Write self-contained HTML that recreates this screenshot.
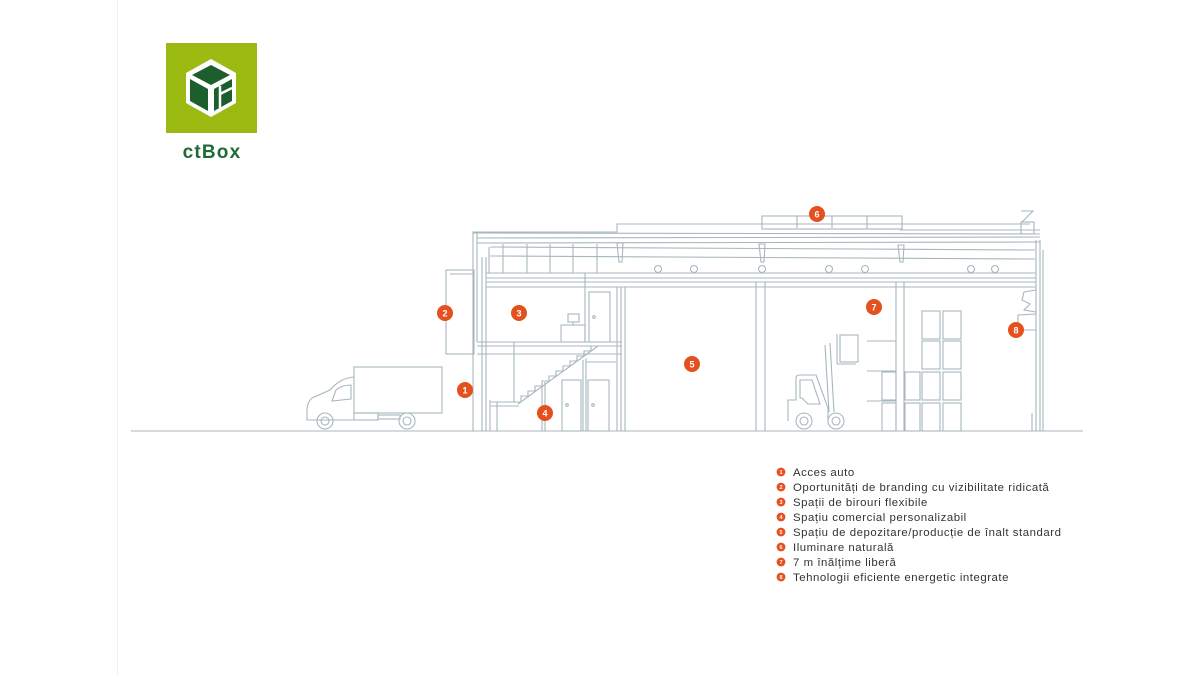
<!DOCTYPE html>
<html><head><meta charset="utf-8"><style>
html,body{margin:0;padding:0;background:#fff;}
svg{display:block}
</style></head><body>
<svg width="1200" height="675" viewBox="0 0 1200 675" xmlns="http://www.w3.org/2000/svg" font-family="Liberation Sans, sans-serif">
<rect width="1200" height="675" fill="#fff"/>
<line x1="117.5" y1="0" x2="117.5" y2="675" stroke="#f0f0f0" stroke-width="1"/>
<!-- logo -->
<rect x="166" y="43" width="91" height="90" fill="#9bba12"/>
<g transform="translate(211,88)">
<polygon points="0,-29 25,-15 25,15 0,29 -25,15 -25,-15" fill="#fff"/>
<polygon points="0,-23 19,-13 0,-3 -19,-13" fill="#1c5e2c"/>
<polygon points="-21,-9 -3,1 -3,23 -21,13" fill="#1c5e2c"/>
<polygon points="3,1 21,-9 21,13 3,23" fill="#1c5e2c"/>
<line x1="9" y1="-2" x2="9" y2="20" stroke="#fff" stroke-width="2.5"/>
<line x1="9" y1="6" x2="21" y2="0" stroke="#fff" stroke-width="2.5"/>
</g>
<text x="212" y="158" text-anchor="middle" font-size="19" font-weight="bold" fill="#1f6a35" letter-spacing="1.2">ctBox</text>

<g fill="none" stroke="#a7b7bc" stroke-width="1.1">
<line x1="131" y1="431" x2="1083" y2="431"/>
<rect x="354" y="367" width="88" height="46"/>
<path d="M354,377 Q340,378 330,390 L312,398 Q307,402 307,412 L307,420 L354,420"/>
<path d="M332,401 L336,390 Q342,385 351,385 L351,399 Z"/>
<rect x="354" y="413" width="24" height="7"/>
<rect x="378" y="415" width="22" height="4"/>
<circle cx="325" cy="421" r="8"/><circle cx="325" cy="421" r="4"/>
<circle cx="407" cy="421" r="8"/><circle cx="407" cy="421" r="4"/>
<polyline points="473,431 473,232 617,232 617,224 1030,224"/>
<line x1="477" y1="232" x2="477" y2="342"/>
<line x1="473" y1="233" x2="1040" y2="234"/>
<line x1="477" y1="238" x2="1040" y2="237"/>
<line x1="477" y1="243" x2="1040" y2="242"/>
<line x1="490" y1="247" x2="1035" y2="250"/>
<line x1="490" y1="256" x2="1035" y2="259"/>
<line x1="1036" y1="240" x2="1036" y2="431"/>
<line x1="1040" y1="240" x2="1040" y2="431"/>
<line x1="1043" y1="250" x2="1043" y2="431"/>
<rect x="762" y="216" width="140" height="13"/>
<line x1="797" y1="216" x2="797" y2="228"/><line x1="832" y1="216" x2="832" y2="228"/><line x1="867" y1="216" x2="867" y2="229"/>
<line x1="900" y1="230" x2="1040" y2="230"/>
<rect x="1021" y="222" width="13" height="12"/>
<path d="M1021,211 L1033,211 L1022,222"/>
<path d="M617,243 L623,243 L622,262 L619,262 Z"/>
<path d="M759,244 L765,244 L764,262 L761,262 Z"/>
<path d="M898,245 L904,245 L903,262 L900,262 Z"/>
<line x1="503" y1="244" x2="503" y2="273"/><line x1="527" y1="244" x2="527" y2="273"/>
<line x1="550" y1="244" x2="550" y2="273"/><line x1="573" y1="244" x2="573" y2="273"/>
<line x1="597" y1="244" x2="597" y2="273"/>
<line x1="489" y1="247" x2="489" y2="273"/>
<line x1="486" y1="273" x2="1036" y2="273"/>
<line x1="486" y1="278" x2="1036" y2="278"/>
<line x1="486" y1="282" x2="1036" y2="282"/>
<line x1="486" y1="287" x2="1036" y2="287"/>
<circle cx="658" cy="269" r="3.5"/><circle cx="694" cy="269" r="3.5"/><circle cx="762" cy="269" r="3.5"/>
<circle cx="829" cy="269" r="3.5"/><circle cx="865" cy="269" r="3.5"/><circle cx="971" cy="269" r="3.5"/><circle cx="995" cy="269" r="3.5"/>
<line x1="482" y1="257" x2="482" y2="431"/><line x1="486" y1="257" x2="486" y2="431"/>
<line x1="490" y1="400" x2="490" y2="431"/><line x1="497" y1="402" x2="497" y2="431"/>
<rect x="446" y="270" width="28" height="84"/>
<line x1="450" y1="274" x2="473" y2="274"/>
<line x1="477" y1="342" x2="622" y2="342"/>
<line x1="477" y1="346" x2="622" y2="346"/>
<line x1="477" y1="354" x2="622" y2="354"/>
<line x1="514" y1="342" x2="514" y2="402"/>
<line x1="585" y1="273" x2="585" y2="342"/>
<rect x="589" y="292" width="21" height="50"/><circle cx="594" cy="317" r="1.3"/>
<rect x="561" y="325" width="24" height="17"/>
<rect x="568" y="314" width="11" height="8"/><line x1="573" y1="322" x2="573" y2="325"/>
<line x1="617" y1="287" x2="617" y2="431"/><line x1="621" y1="287" x2="621" y2="431"/>
<line x1="518" y1="404" x2="598" y2="346"/>
<path d="M514,402 L521,402 L521,396 L528,396 L528,391 L535,391 L535,386 L542,386 L542,381 L549,381 L549,376 L556,376 L556,371 L563,371 L563,366 L570,366 L570,361 L577,361 L577,356 L584,356 L584,351 L591,351 L591,346"/>
<line x1="491" y1="402" x2="518" y2="402"/>
<line x1="491" y1="406" x2="519" y2="406"/>
<line x1="542" y1="384" x2="542" y2="431"/><line x1="545" y1="382" x2="545" y2="431"/>
<line x1="583" y1="360" x2="583" y2="431"/><line x1="586" y1="358" x2="586" y2="431"/>
<line x1="586" y1="362" x2="616" y2="362"/>
<rect x="562" y="380" width="19" height="51"/><circle cx="567" cy="405" r="1.3"/>
<rect x="588" y="380" width="21" height="51"/><circle cx="593" cy="405" r="1.3"/>
<line x1="625" y1="287" x2="625" y2="431"/>
<line x1="756" y1="282" x2="756" y2="431"/>
<line x1="765" y1="282" x2="765" y2="431"/>
<line x1="896" y1="282" x2="896" y2="431"/>
<line x1="904" y1="282" x2="904" y2="431"/>
<path d="M1036,290 L1024,292 L1022,300 L1030,304 L1024,310 L1036,312"/>
<path d="M1036,314 L1018,315 L1018,330 L1036,330"/>
<line x1="1032" y1="413" x2="1032" y2="431"/>
<rect x="922" y="311" width="18" height="28"/><rect x="943" y="311" width="18" height="28"/>
<rect x="922" y="341" width="18" height="28"/><rect x="943" y="341" width="18" height="28"/>
<rect x="905" y="372" width="15" height="28"/><rect x="922" y="372" width="18" height="28"/><rect x="943" y="372" width="18" height="28"/>
<rect x="905" y="403" width="15" height="28"/><rect x="922" y="403" width="18" height="28"/><rect x="943" y="403" width="18" height="28"/>
<rect x="882" y="372" width="14" height="28"/><rect x="882" y="403" width="14" height="28"/>
<line x1="867" y1="341" x2="896" y2="341"/><line x1="867" y1="371" x2="896" y2="371"/><line x1="867" y1="401" x2="896" y2="401"/>
<rect x="840" y="335" width="18" height="27"/>
<line x1="837" y1="334" x2="837" y2="364"/><line x1="837" y1="364" x2="856" y2="364"/>
<line x1="825" y1="345" x2="829" y2="412"/><line x1="830" y1="343" x2="834" y2="412"/>
<path d="M788,421 L788,400 L796,400 L796,378 Q796,375 800,375 L816,375 L828,408 L828,421"/>
<path d="M800,380 L812,380 L820,404 L808,404 L802,398 L800,398 Z"/>
<circle cx="804" cy="421" r="8"/><circle cx="804" cy="421" r="4"/>
<circle cx="836" cy="421" r="8"/><circle cx="836" cy="421" r="4"/>
</g>

<g fill="#e4501e">
<circle cx="465" cy="390" r="8"/><circle cx="445" cy="313" r="8"/><circle cx="519" cy="313" r="8"/>
<circle cx="545" cy="413" r="8"/><circle cx="692" cy="364" r="8"/><circle cx="817" cy="214" r="8"/>
<circle cx="874" cy="307" r="8"/><circle cx="1016" cy="330" r="8"/>
</g>
<g fill="#fff" font-size="9" font-weight="bold" text-anchor="middle">
<text x="465" y="393.5">1</text><text x="445" y="316.5">2</text><text x="519" y="316.5">3</text>
<text x="545" y="416.5">4</text><text x="692" y="367.5">5</text><text x="817" y="217.5">6</text>
<text x="874" y="310.5">7</text><text x="1016" y="333.5">8</text>
</g>

<g fill="#e4501e">
<circle cx="781" cy="472" r="4.4"/><circle cx="781" cy="487" r="4.4"/><circle cx="781" cy="502" r="4.4"/>
<circle cx="781" cy="517" r="4.4"/><circle cx="781" cy="532" r="4.4"/><circle cx="781" cy="547" r="4.4"/>
<circle cx="781" cy="562" r="4.4"/><circle cx="781" cy="577" r="4.4"/>
</g>
<g fill="#fff" font-size="5.5" font-weight="bold" text-anchor="middle">
<text x="781" y="474">1</text><text x="781" y="489">2</text><text x="781" y="504">3</text><text x="781" y="519">4</text>
<text x="781" y="534">5</text><text x="781" y="549">6</text><text x="781" y="564">7</text><text x="781" y="579">8</text>
</g>
<g fill="#333" font-size="11.4" letter-spacing="0.54">
<text x="793" y="476">Acces auto</text>
<text x="793" y="491">Oportunități de branding cu vizibilitate ridicată</text>
<text x="793" y="506">Spații de birouri flexibile</text>
<text x="793" y="521">Spațiu comercial personalizabil</text>
<text x="793" y="536">Spațiu de depozitare/producție de înalt standard</text>
<text x="793" y="551">Iluminare naturală</text>
<text x="793" y="566">7 m înălțime liberă</text>
<text x="793" y="581">Tehnologii eficiente energetic integrate</text>
</g>
</svg>
</body></html>
